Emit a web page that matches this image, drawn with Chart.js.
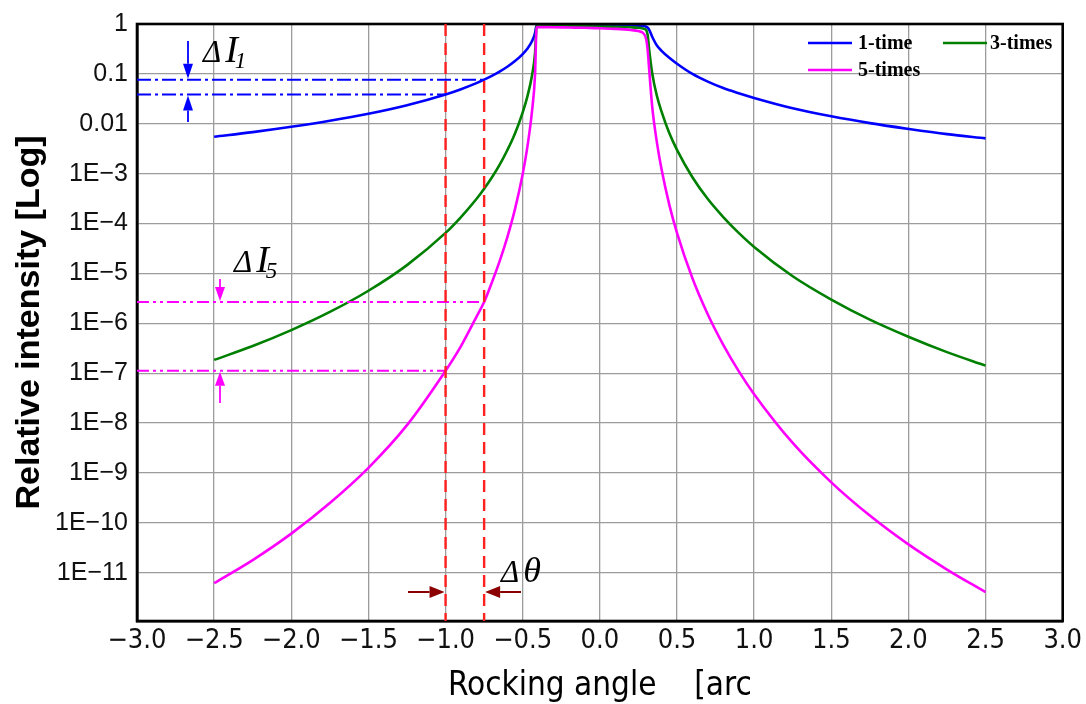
<!DOCTYPE html>
<html>
<head>
<meta charset="utf-8">
<script src="https://cdn.jsdelivr.net/npm/chart.js@4.4.1/dist/chart.umd.min.js"></script>
<style>
  html, body { margin: 0; padding: 0; background: #ffffff; }
  #wrap { width: 1086px; height: 704px; }
</style>
</head>
<body>
<div id="wrap"><canvas id="c" width="1086" height="704"></canvas></div>
<script>
// ---------------- DATA ----------------
const angles = [-2.5,-2.25,-2.0,-1.75,-1.5,-1.25,-1.0,-0.9,-0.8,-0.75,-0.7,-0.65,-0.6,-0.55,-0.5,-0.47,-0.44,-0.42,-0.41,
  -0.3,-0.2,-0.1,0.0,0.1,0.2,0.25,0.28,0.3,0.31,0.32,0.34,0.37,0.4,0.45,0.5,0.6,0.7,0.8,0.9,1.0,1.25,1.5,1.75,2.0,2.25,2.5];

const oneTime = [0.0055,0.0068,0.0087,0.0115,0.0159,0.0236,0.0387,0.0494,0.0654,0.0767,0.0913,0.111,0.139,0.181,0.25,0.32,0.45,0.66,0.94,
  0.95,0.95,0.945,0.94,0.935,0.93,0.92,0.91,0.88,0.84,0.76,0.55,0.37,0.29,0.21,0.16,0.10,0.07,0.052,0.041,0.033,0.0205,0.0141,0.0103,0.0079,0.0062,0.0051];

const threeTimes = [1.85e-7,3.5e-7,7.3e-7,1.69e-6,4.5e-6,1.47e-5,6.5e-5,1.35e-4,3.1e-4,5.0e-4,8.4e-4,1.5e-3,2.95e-3,6.4e-3,0.017,0.035,0.092,0.26,0.91,
  0.91,0.905,0.9,0.89,0.88,0.86,0.84,0.81,0.76,0.6,0.3,0.1,0.036,0.0175,6.5e-3,3.0e-3,8.5e-4,3.1e-4,1.35e-4,6.5e-5,3.4e-5,8.8e-6,3.0e-6,1.19e-6,5.4e-7,2.65e-7,1.42e-7];

const fiveTimes = [6.2e-12,1.8e-11,6.1e-11,2.5e-10,1.27e-9,9.1e-9,1.12e-7,3.5e-7,1.35e-6,2.68e-6,6.6e-6,1.75e-5,5.3e-5,1.95e-4,9.8e-4,3.4e-3,0.0175,0.097,0.87,
  0.86,0.85,0.84,0.82,0.80,0.76,0.72,0.66,0.5,0.3,0.12,0.021,4.2e-3,1.22e-3,2.4e-4,6.5e-5,8.0e-6,1.5e-6,3.7e-7,1.1e-7,3.8e-8,4.0e-9,6.5e-10,1.4e-10,3.7e-11,1.16e-11,4.1e-12];

const seriesNames = ['1-time', '3-times', '5-times'];

const xTickValues = [-3.0,-2.5,-2.0,-1.5,-1.0,-0.5,0.0,0.5,1.0,1.5,2.0,2.5,3.0];
const xTickLabels = ['\u22123.0','\u22122.5','\u22122.0','\u22121.5','\u22121.0','\u22120.5','0.0','0.5','1.0','1.5','2.0','2.5','3.0'];
const yTickValues = [1,1e-1,1e-2,1e-3,1e-4,1e-5,1e-6,1e-7,1e-8,1e-9,1e-10,1e-11];
const yTickLabels = ['1','0.1','0.01','1E\u22123','1E\u22124','1E\u22125','1E\u22126','1E\u22127','1E\u22128','1E\u22129','1E\u221210','1E\u221211'];

// annotation values
const markAngles = [-1.0, -0.75];          // red dashed verticals (Δθ)
const dI1Levels = [0.0387, 0.0767];        // 1-time intensity at the two angles
const dI5Levels = [1.12e-7, 2.68e-6];      // 5-times intensity at the two angles

const xTitle = 'Rocking angle    [arc';
const yTitle = 'Relative intensity [Log]';

// ---------------- CHART ----------------
const colors = ['#0000ff', '#008000', '#ff00ff'];
const seriesValues = [oneTime, threeTimes, fiveTimes];

function toPoints(vals) { return angles.map((a, i) => ({ x: a, y: vals[i] })); }

const datasets = seriesValues.map((vals, i) => ({
  label: seriesNames[i],
  data: toPoints(vals),
  borderColor: colors[i],
  backgroundColor: colors[i],
  borderWidth: 2.6,
  pointRadius: 0,
  fill: false,
  cubicInterpolationMode: 'monotone',
  order: 3 - i
}));

function arrow(ctx, x1, y1, x2, y2, headLen, headHalf, color, lw) {
  const ang = Math.atan2(y2 - y1, x2 - x1);
  const bx = x2 - headLen * Math.cos(ang), by = y2 - headLen * Math.sin(ang);
  ctx.save();
  ctx.setLineDash([]);
  ctx.strokeStyle = color; ctx.fillStyle = color; ctx.lineWidth = lw;
  ctx.beginPath(); ctx.moveTo(x1, y1); ctx.lineTo(bx, by); ctx.stroke();
  ctx.beginPath();
  ctx.moveTo(x2, y2);
  ctx.lineTo(bx + headHalf * Math.sin(ang), by - headHalf * Math.cos(ang));
  ctx.lineTo(bx - headHalf * Math.sin(ang), by + headHalf * Math.cos(ang));
  ctx.closePath(); ctx.fill();
  ctx.restore();
}

const annotatePlugin = {
  id: 'annotate',
  afterDatasetsDraw(chart) {
    const ctx = chart.ctx, xs = chart.scales.x, ys = chart.scales.y, ca = chart.chartArea;
    ctx.save();
    // plot frame
    ctx.strokeStyle = '#000'; ctx.lineWidth = 2.6; ctx.setLineDash([]);
    ctx.strokeRect(ca.left, ca.top, ca.right - ca.left, ca.bottom - ca.top);

    // blue dash-dot level lines (ΔI1)
    ctx.strokeStyle = '#0000ff'; ctx.lineWidth = 2;
    ctx.setLineDash([14, 4, 3, 4]);
    dI1Levels.forEach((v, i) => {
      const y = ys.getPixelForValue(v);
      ctx.beginPath(); ctx.moveTo(ca.left, y); ctx.lineTo(xs.getPixelForValue(markAngles[i]), y); ctx.stroke();
    });
    // magenta dash-dot-dot level lines (ΔI5)
    ctx.strokeStyle = '#ff00ff';
    ctx.setLineDash([12, 4, 3, 4, 3, 4]);
    dI5Levels.forEach((v, i) => {
      const y = ys.getPixelForValue(v);
      ctx.beginPath(); ctx.moveTo(ca.left, y); ctx.lineTo(xs.getPixelForValue(markAngles[i]), y); ctx.stroke();
    });
    // red dashed verticals
    ctx.strokeStyle = '#ff2020'; ctx.lineWidth = 2.4;
    ctx.setLineDash([12, 7]);
    markAngles.forEach(a => {
      const x = xs.getPixelForValue(a);
      ctx.beginPath(); ctx.moveTo(x, ca.top); ctx.lineTo(x, ca.bottom); ctx.stroke();
    });
    ctx.setLineDash([]);

    // arrows ΔI1
    const bx = 188;
    arrow(ctx, bx, 41, bx, ys.getPixelForValue(dI1Levels[1]) - 1, 15, 5, '#0000ff', 1.8);
    arrow(ctx, bx, 122, bx, ys.getPixelForValue(dI1Levels[0]) + 1, 15, 5, '#0000ff', 1.8);
    // arrows ΔI5
    const mx = 220;
    arrow(ctx, mx, 279, mx, ys.getPixelForValue(dI5Levels[1]) - 1, 14, 5, '#ff00ff', 1.8);
    arrow(ctx, mx, 403, mx, ys.getPixelForValue(dI5Levels[0]) + 1, 14, 5, '#ff00ff', 1.8);
    // arrows Δθ
    const ay = 592;
    arrow(ctx, 408, ay, xs.getPixelForValue(markAngles[0]) - 1, ay, 15, 6, '#8b0000', 2);
    arrow(ctx, 521, ay, xs.getPixelForValue(markAngles[1]) + 1, ay, 15, 6, '#8b0000', 2);

    // labels
    ctx.fillStyle = '#000'; ctx.textBaseline = 'alphabetic'; ctx.textAlign = 'left';
    const serif = "'Liberation Serif', 'Times New Roman', serif";
    function deltaLabel(x, y, main, sub, mainSize) {
      ctx.font = 'italic 31px ' + serif; ctx.fillText('\u0394', x, y);
      const w = ctx.measureText('\u0394').width;
      ctx.font = 'italic ' + mainSize + 'px ' + serif; ctx.fillText(main, x + w + 4, y);
      const w2 = ctx.measureText(main).width;
      if (sub) { ctx.font = 'italic 23px ' + serif; ctx.fillText(sub, x + w + 4 + w2 - 3, y + 6); }
    }
    deltaLabel(203, 62, 'I', '1', 38);
    deltaLabel(234, 272, 'I', '5', 38);
    deltaLabel(501, 582, '\u03b8', null, 36);
    ctx.restore();
  }
};

const legendPlugin = {
  id: 'customLegend',
  afterDraw(chart) {
    const ctx = chart.ctx;
    const spots = [
      { lx: 808, tx: 858, y: 43 },
      { lx: 943, tx: 990, y: 43 },
      { lx: 808, tx: 858, y: 70 }
    ];
    ctx.save();
    chart.data.datasets.forEach((ds, i) => {
      const s = spots[i];
      ctx.strokeStyle = ds.borderColor; ctx.lineWidth = 2.6; ctx.setLineDash([]);
      ctx.beginPath(); ctx.moveTo(s.lx, s.y); ctx.lineTo(s.lx + 44, s.y); ctx.stroke();
      ctx.fillStyle = '#000';
      ctx.font = "bold 20px 'Liberation Serif', 'Times New Roman', serif";
      ctx.textBaseline = 'middle'; ctx.textAlign = 'left';
      ctx.fillText(ds.label, s.tx, s.y + 1);
    });
    ctx.restore();
  }
};

new Chart(document.getElementById('c'), {
  type: 'line',
  data: { datasets },
  options: {
    responsive: false,
    animation: false,
    devicePixelRatio: 1,
    parsing: true,
    layout: { padding: { left: 0, right: 22, top: 20, bottom: 0 } },
    plugins: { legend: { display: false }, tooltip: { enabled: false } },
    scales: {
      x: {
        type: 'linear', min: -3, max: 3,
        afterBuildTicks: s => { s.ticks = xTickValues.map(v => ({ value: v })); },
        afterFit: s => { s.height = 83; },
        ticks: {
          autoSkip: false, maxRotation: 0, padding: 4, color: '#111',
          font: { family: "'Liberation Sans Narrow', 'DejaVu Sans Condensed', 'Liberation Sans', sans-serif", size: 27 },
          callback: (v, i) => xTickLabels[i]
        },
        grid: { color: '#9c9c9c', lineWidth: 1.3, drawTicks: false },
        border: { display: true, color: '#000', width: 2.6 },
        title: {
          display: true, text: xTitle, color: '#000',
          font: { family: "'Liberation Sans Narrow', 'DejaVu Sans Condensed', 'Liberation Sans', sans-serif", size: 33, lineHeight: 1.0 },
          padding: { top: 0, bottom: 1 }
        }
      },
      y: {
        type: 'logarithmic', min: 1.08e-12, max: 1,
        afterBuildTicks: s => { s.ticks = yTickValues.map(v => ({ value: v })); },
        afterFit: s => { s.width = 137; },
        ticks: {
          autoSkip: false, padding: 9, color: '#111',
          font: { family: "'Liberation Sans', Arial, sans-serif", size: 25 },
          callback: (v, i) => yTickLabels[i]
        },
        grid: { color: '#9c9c9c', lineWidth: 1.3, drawTicks: false },
        border: { display: true, color: '#000', width: 2.6 },
        title: {
          display: true, text: yTitle, color: '#000',
          font: { family: "'Liberation Sans', Arial, sans-serif", size: 34, weight: 'bold', lineHeight: 1.2 },
          padding: { top: 9, bottom: 0 }
        }
      }
    }
  },
  plugins: [annotatePlugin, legendPlugin]
});
</script>
</body>
</html>
